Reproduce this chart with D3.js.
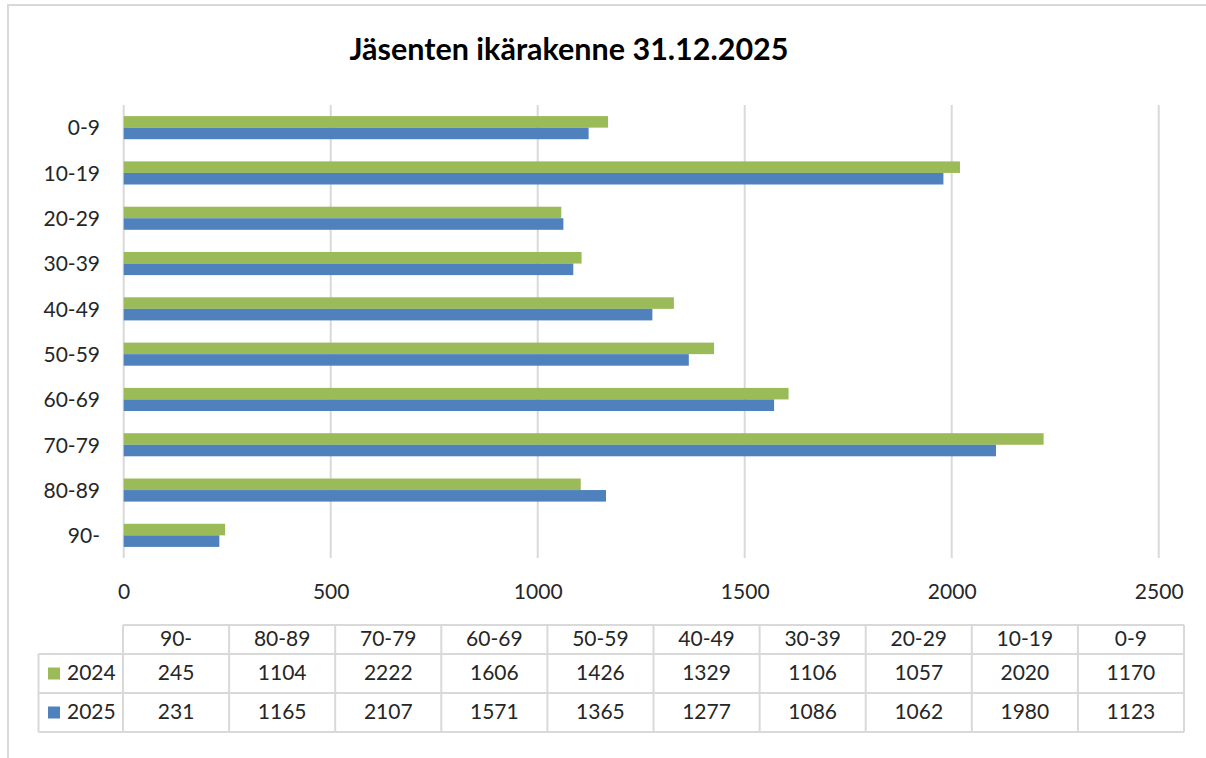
<!DOCTYPE html>
<html>
<head>
<meta charset="utf-8">
<script src="https://cdn.jsdelivr.net/npm/d3@7"></script>
<style>
  html, body { margin: 0; padding: 0; background: #fff; }
  svg { display: block; }
  text { font-family: Lato, "Open Sans", sans-serif; fill: #262626; }
</style>
</head>
<body>
<svg id="chart" width="1206" height="758"></svg>
<script>
const title = "Jäsenten ikärakenne 31.12.2025";
const categories = ["0-9", "10-19", "20-29", "30-39", "40-49", "50-59", "60-69", "70-79", "80-89", "90-"];
const seriesNames = ["2024", "2025"];
const values2024 = [1170, 2020, 1057, 1106, 1329, 1426, 1606, 2222, 1104, 245];
const values2025 = [1123, 1980, 1062, 1086, 1277, 1365, 1571, 2107, 1165, 231];
const xTicks = [0, 500, 1000, 1500, 2000, 2500];

const colors = { "2024": "#9BBB59", "2025": "#4F81BD" };
const gridColor = "#d9d9d9";

const svg = d3.select("#chart");

// outer frame (left and top edges visible)
svg.append("path")
  .attr("d", "M8,758 L8,5 L1206,5")
  .attr("fill", "none").attr("stroke", gridColor).attr("stroke-width", 2);

// title
svg.append("text")
  .attr("x", 569).attr("y", 60)
  .attr("text-anchor", "middle")
  .style("font-weight", "bold").style("font-size", "30.5px").style("fill", "#000")
  .text(title);

const plot = { left: 123.7, right: 1158.7, top: 105, bottom: 558 };

const x = d3.scaleLinear().domain([0, 2500]).range([plot.left, plot.right]);
const y = d3.scaleBand().domain(categories).range([plot.top, plot.bottom]).paddingInner(0.49).paddingOuter(0.245);
const ys = d3.scaleBand().domain(seriesNames).range([0, y.bandwidth()]);

// gridlines
svg.append("g").selectAll("line").data(xTicks).join("line")
  .attr("x1", d => x(d)).attr("x2", d => x(d))
  .attr("y1", plot.top).attr("y2", plot.bottom)
  .attr("stroke", gridColor).attr("stroke-width", 2);

// bars
const data = categories.map((c, i) => ({ cat: c, "2024": values2024[i], "2025": values2025[i] }));
const groups = svg.append("g").selectAll("g").data(data).join("g")
  .attr("transform", d => `translate(0,${y(d.cat)})`);
groups.selectAll("rect").data(d => seriesNames.map(s => ({ s, v: d[s] }))).join("rect")
  .attr("x", x(0))
  .attr("y", d => ys(d.s))
  .attr("width", d => x(d.v) - x(0))
  .attr("height", ys.bandwidth())
  .attr("fill", d => colors[d.s]);

// x axis labels
const xAxis = d3.axisBottom(x).tickValues(xTicks).tickFormat(d3.format("d")).tickSize(0).tickPadding(0);
const gx = svg.append("g").attr("transform", `translate(0,${plot.bottom})`).call(xAxis);
gx.select(".domain").remove();
gx.selectAll("text").attr("dy", null).attr("y", 41)
  .style("font-size", "21px").style("font-family", "Lato, sans-serif").attr("fill", "#262626");

// y axis labels
const yAxis = d3.axisLeft(y).tickSize(0).tickPadding(0);
const gy = svg.append("g").attr("transform", `translate(100,0)`).call(yAxis);
gy.select(".domain").remove();
gy.selectAll("text").attr("dy", null).attr("y", 2.5).attr("dominant-baseline", "middle")
  .style("font-size", "21px").style("font-family", "Lato, sans-serif").attr("fill", "#262626");

// data table
const tableCats = categories.slice().reverse();
const t24 = values2024.slice().reverse();
const t25 = values2025.slice().reverse();
const tx = d3.scaleBand().domain(tableCats).range([123, 1184]);
const rowsY = [625, 654, 693, 732];
const legendLeft = 38.5;
const tg = svg.append("g");
const lineAttr = sel => sel.attr("stroke", gridColor).attr("stroke-width", 2).attr("fill", "none");

// horizontal lines
tg.append("line").attr("x1", 123).attr("x2", 1184).attr("y1", rowsY[0]).attr("y2", rowsY[0]).call(lineAttr);
[1, 2, 3].forEach(i => tg.append("line").attr("x1", legendLeft).attr("x2", 1184).attr("y1", rowsY[i]).attr("y2", rowsY[i]).call(lineAttr));
// vertical lines
tg.append("line").attr("x1", legendLeft).attr("x2", legendLeft).attr("y1", rowsY[1]).attr("y2", rowsY[3]).call(lineAttr);
tableCats.concat(["end"]).forEach((c, i) => {
  const xx = c === "end" ? 1184 : tx(c);
  tg.append("line").attr("x1", xx).attr("x2", xx).attr("y1", rowsY[0]).attr("y2", rowsY[3]).call(lineAttr);
});

const cellText = (xx, yy, txt) => tg.append("text").attr("x", xx).attr("y", yy)
  .attr("text-anchor", "middle").attr("dominant-baseline", "middle")
  .style("font-size", "21px").text(txt);

tableCats.forEach((c, i) => {
  const cx = tx(c) + tx.bandwidth() / 2;
  cellText(cx, (rowsY[0] + rowsY[1]) / 2 + 1.5, c);
  cellText(cx, (rowsY[1] + rowsY[2]) / 2 + 1.5, t24[i]);
  cellText(cx, (rowsY[2] + rowsY[3]) / 2 + 1.5, t25[i]);
});

// legend keys in table
[[t24, "2024", 1], [t25, "2025", 2]].forEach(([_, name, r]) => {
  const cy = (rowsY[r] + rowsY[r + 1]) / 2;
  tg.append("rect").attr("x", 48).attr("y", cy - 6).attr("width", 12).attr("height", 12).attr("fill", colors[name]);
  tg.append("text").attr("x", 67).attr("y", cy + 1.5).attr("dominant-baseline", "middle")
    .style("font-size", "21px").text(name);
});
</script>
</body>
</html>
